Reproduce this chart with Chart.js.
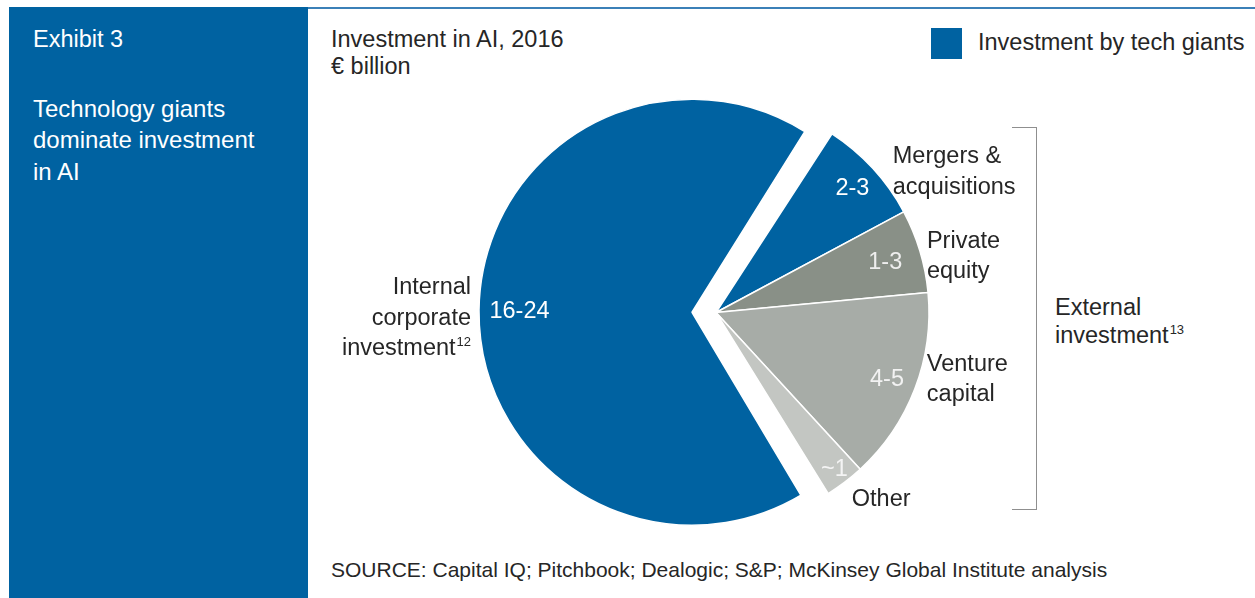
<!DOCTYPE html>
<html>
<head>
<meta charset="utf-8">
<title>Investment in AI, 2016</title>
<script src="https://cdn.jsdelivr.net/npm/chart.js@4.4.1/dist/chart.umd.min.js"></script>
<style>
  html, body { margin: 0; padding: 0; background: #fff; }
  body {
    width: 1255px; height: 598px; position: relative; overflow: hidden;
    font-family: "Liberation Sans", Arial, sans-serif; font-size: 23.5px; color: #262626;
  }
  .panel { position: absolute; left: 9px; top: 7px; width: 299px; height: 591px; background: #0062a1; color: #fff; }
  .panel .exhibit { position: absolute; left: 24px; top: 16.8px; line-height: 31.5px; }
  .panel .headline { position: absolute; left: 24px; top: 85.8px; line-height: 31.5px; font-size: 24px; }
  .rule { position: absolute; left: 308px; top: 7px; right: 0; height: 2px; background: #3b80b8; }
  .title { position: absolute; left: 331px; top: 26px; line-height: 27px; }
  .legend { position: absolute; left: 931px; top: 28px; }
  .legend .swatch { position: absolute; left: 0; top: 0; width: 31px; height: 31px; background: #0062a1; }
  .legend .text { position: absolute; left: 47px; top: 1px; line-height: 27px; white-space: nowrap; }
  .bracket { position: absolute; left: 1012px; top: 127px; width: 24px; height: 381px;
    border: 1px solid #8f8f8f; border-left: none; }
  .external { position: absolute; left: 1055px; top: 292.5px; line-height: 28px; }
  .source { position: absolute; left: 331px; top: 557.5px; font-size: 21px; line-height: 24px; white-space: nowrap; }
  sup { font-size: 13px; vertical-align: baseline; position: relative; top: -9px; margin-left: 1px; }
  #js-pie { position: absolute; left: 0; top: 0; }
</style>
</head>
<body>
  <div class="panel">
    <div class="exhibit">Exhibit 3</div>
    <div class="headline">Technology giants<br>dominate investment<br>in AI</div>
  </div>
  <div class="rule"></div>
  <div class="title">Investment in AI, 2016<br>€ billion</div>
  <div class="legend"><div class="swatch"></div><div class="text">Investment by tech giants</div></div>
  <div class="bracket"></div>
  <div class="external">External<br>investment<sup>13</sup></div>
  <div class="source">SOURCE: Capital IQ; Pitchbook; Dealogic; S&amp;P; McKinsey Global Institute analysis</div>

  <canvas id="js-pie" width="1255" height="598"></canvas>

<script>
"use strict";

// 카테고리와 값 (€ billion)
const categories = ["Mergers & acquisitions", "Private equity", "Venture capital", "Other", "Internal corporate investment"];
const valueLabels = ["2-3", "1-3", "4-5", "~1", "16-24"];
const values = [2.4, 1.9, 4.4, 0.9, 20.4];

// 라벨 줄바꿈, 각주 번호
const categoryLines = [["Mergers &", "acquisitions"], ["Private", "equity"], ["Venture", "capital"], ["Other"], ["Internal", "corporate", "investment"]];
const footnotes = [null, null, null, null, "12"];

// 스타일
const sliceColors = ["#0062a1", "#899087", "#a7aca7", "#c3c6c2", "#0062a1"];
const valueColors = ["#ffffff", "#eeeeee", "#f2f2f2", "#f4f4f4", "#ffffff"];
const sliceOffsets = [0, 0, 0, 0, 96];
const valueRadius = [0.87, 0.83, 0.86, 0.92, 0.81];
// 바깥 라벨: 조각 가장자리 중간점 기준 위치
const nameLayout = [
  { dx: 20, dy: -5, align: "left" },
  { dx: 7, dy: -3, align: "left" },
  { dx: 12, dy: -18, align: "left" },
  { dx: 7, dy: 24, align: "left" },
  { dx: -8, dy: -16, align: "right" },
];

const FONT = '23.5px "Liberation Sans", Arial, sans-serif';
const SUP_FONT = '13px "Liberation Sans", Arial, sans-serif';
const LINE = 30.5;

// offset 준 조각의 이동 거리 / 반지름 증가분 (ArcElement.draw 와 같은 계산)
function arcShift(arc) {
  const off = (arc.options.offset || 0) / 4;
  const grow = off * (1 - Math.sin(Math.min(Math.PI, arc.circumference)));
  return { move: off, grow: grow };
}

// 떼어낸 조각도 반지름은 그대로 두고 옆으로만 이동
const keepRadius = {
  id: "keepRadius",
  beforeDatasetsDraw(chart) {
    const meta = chart.getDatasetMeta(0);
    const base = meta.controller.outerRadius;
    meta.data.forEach((arc) => {
      arc.outerRadius = base - arcShift(arc).grow;
    });
  },
};

// 조각 안쪽 값 + 바깥쪽 이름 그리기
const sliceLabels = {
  id: "sliceLabels",
  afterDatasetsDraw(chart) {
    const ctx = chart.ctx;
    const meta = chart.getDatasetMeta(0);
    const r = meta.controller.outerRadius;
    ctx.save();
    meta.data.forEach((arc, i) => {
      const mid = (arc.startAngle + arc.endAngle) / 2;
      const s = arcShift(arc);
      const cx = arc.x + Math.cos(mid) * s.move;
      const cy = arc.y + Math.sin(mid) * s.move;

      ctx.font = FONT;
      ctx.textAlign = "center";
      ctx.textBaseline = "middle";
      ctx.fillStyle = valueColors[i];
      const vr = r * valueRadius[i];
      ctx.fillText(valueLabels[i], cx + Math.cos(mid) * vr, cy + Math.sin(mid) * vr + 1);

      const ex = cx + Math.cos(mid) * r;
      const ey = cy + Math.sin(mid) * r;
      const lay = nameLayout[i];
      const x = ex + lay.dx;
      ctx.fillStyle = "#262626";
      ctx.textBaseline = "alphabetic";
      categoryLines[i].forEach((line, k) => {
        const y = ey + lay.dy + k * LINE;
        const last = k === categoryLines[i].length - 1;
        const sup = last ? footnotes[i] : null;
        ctx.font = SUP_FONT;
        const supW = sup ? ctx.measureText(sup).width + 1 : 0;
        ctx.font = FONT;
        if (lay.align === "right") {
          ctx.textAlign = "right";
          ctx.fillText(line, x - supW, y);
          if (sup) {
            ctx.font = SUP_FONT;
            ctx.textAlign = "left";
            ctx.fillText(sup, x - supW + 1, y - 9);
          }
        } else {
          ctx.textAlign = "left";
          ctx.fillText(line, x, y);
        }
      });
    });
    ctx.restore();
  },
};

const ctx = document.getElementById("js-pie").getContext("2d");
const pie = new Chart(ctx, {
  type: "pie",
  data: {
    labels: categories,
    datasets: [
      {
        data: values,
        backgroundColor: sliceColors,
        borderColor: "#ffffff",
        borderWidth: 1.5,
        offset: sliceOffsets,
        hoverOffset: 0,
      },
    ],
  },
  options: {
    responsive: false,
    animation: false,
    rotation: 33,
    radius: 213,
    layout: { padding: { left: 177, right: 0, top: 27, bottom: 0 } },
    events: [],
    plugins: {
      legend: { display: false },
      tooltip: { enabled: false },
    },
  },
  plugins: [keepRadius, sliceLabels],
});
</script>
</body>
</html>
